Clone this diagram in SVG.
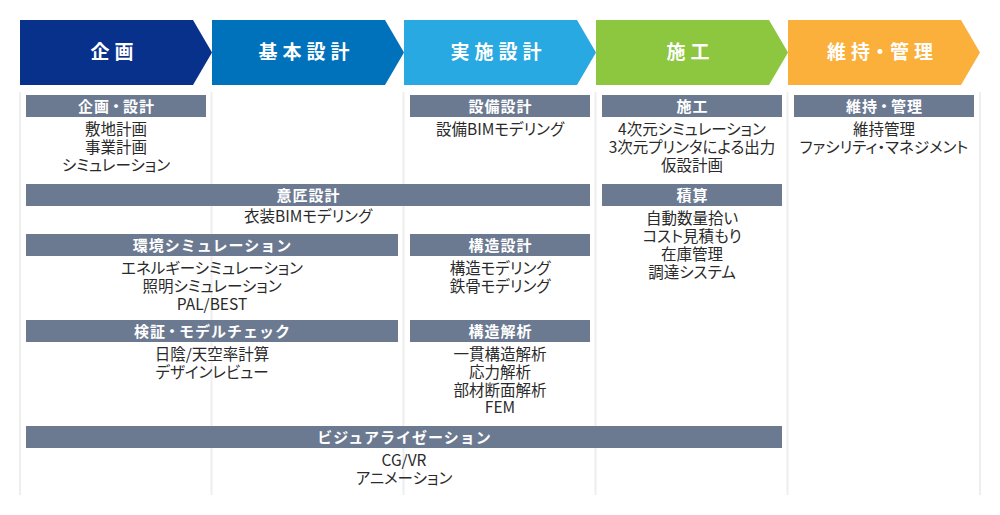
<svg xmlns="http://www.w3.org/2000/svg" width="1000" height="515" viewBox="0 0 1000 515">
<style>
.ph{font-family:"Noto Sans CJK JP","Noto Sans",sans-serif;font-size:19px;font-weight:bold;fill:#fff;text-anchor:middle;letter-spacing:5px}
.bar{fill:#6c7a91}
.bt{font-family:"Noto Sans CJK JP","Noto Sans",sans-serif;font-size:15px;font-weight:bold;fill:#fff;text-anchor:middle;letter-spacing:1px}
.tx{font-family:"Noto Sans CJK JP","Noto Sans",sans-serif;font-size:15.5px;fill:#2a2a2a;text-anchor:middle;font-feature-settings:"palt"}
.col{stroke:#eeeeee;stroke-width:2;fill:none}
</style>
<rect width="1000" height="515" fill="#fff"/>
<g id="columns">
<line class="col" x1="20" y1="92" x2="20" y2="495"/>
<line class="col" x1="211.5" y1="92" x2="211.5" y2="495"/>
<line class="col" x1="403.5" y1="92" x2="403.5" y2="495"/>
<line class="col" x1="595.5" y1="92" x2="595.5" y2="495"/>
<line class="col" x1="787.5" y1="92" x2="787.5" y2="495"/>
<line class="col" x1="980" y1="92" x2="980" y2="495"/>
</g>
<g id="phase-kikaku">
<polygon points="20,20 193,20 212,52.5 193,85 20,85" fill="#08318c"/>
<text class="ph" x="114.5" y="59">企画</text>
</g>
<g id="phase-kihon">
<polygon points="212,20 385,20 404,52.5 385,85 212,85" fill="#0071bb"/>
<text class="ph" x="306.5" y="59">基本設計</text>
</g>
<g id="phase-jisshi">
<polygon points="404,20 577,20 596,52.5 577,85 404,85" fill="#29a9e1"/>
<text class="ph" x="498.5" y="59">実施設計</text>
</g>
<g id="phase-seko">
<polygon points="596,20 769,20 788,52.5 769,85 596,85" fill="#8dc63f"/>
<text class="ph" x="690.5" y="59">施工</text>
</g>
<g id="phase-iji">
<polygon points="788,20 961,20 980,52.5 961,85 788,85" fill="#fbb03b"/>
<text class="ph" x="882.5" y="59">維持<tspan dx="-4.5">・</tspan><tspan dx="-4.5">管理</tspan></text>
</g>
<g id="kikaku-sekkei">
<rect class="bar" x="26" y="95" width="180" height="22"/>
<text class="bt" x="116.5" y="111.5">企画<tspan dx="-1.5">・</tspan><tspan dx="-1.5">設計</tspan></text>
<text class="tx" x="116" y="135">敷地計画</text>
<text class="tx" x="116" y="153">事業計画</text>
<text class="tx" x="116" y="171">シミュレーション</text>
</g>
<g id="setsubi-sekkei">
<rect class="bar" x="410" y="95" width="180" height="22"/>
<text class="bt" x="500.5" y="111.5">設備設計</text>
<text class="tx" x="500" y="135">設備BIMモデリング</text>
</g>
<g id="seko">
<rect class="bar" x="602" y="95" width="180" height="22"/>
<text class="bt" x="692.5" y="111.5">施工</text>
<text class="tx" x="692" y="135">4次元シミュレーション</text>
<text class="tx" x="692" y="153">3次元プリンタによる出力</text>
<text class="tx" x="692" y="171">仮設計画</text>
</g>
<g id="iji-kanri">
<rect class="bar" x="794" y="95" width="180" height="22"/>
<text class="bt" x="884.5" y="111.5">維持<tspan dx="-1.5">・</tspan><tspan dx="-1.5">管理</tspan></text>
<text class="tx" x="884" y="135">維持管理</text>
<text class="tx" x="884" y="153">ファシリティ・マネジメント</text>
</g>
<g id="isho-sekkei">
<rect class="bar" x="26" y="184" width="564" height="22"/>
<text class="bt" x="308.5" y="200.5">意匠設計</text>
<text class="tx" x="308" y="222">衣装BIMモデリング</text>
</g>
<g id="sekisan">
<rect class="bar" x="602" y="184" width="180" height="22"/>
<text class="bt" x="692.5" y="200.5">積算</text>
<text class="tx" x="692" y="223.5">自動数量拾い</text>
<text class="tx" x="692" y="241.5">コスト見積もり</text>
<text class="tx" x="692" y="259.5">在庫管理</text>
<text class="tx" x="692" y="277.5">調達システム</text>
</g>
<g id="kankyo-sim">
<rect class="bar" x="26" y="234" width="372" height="22"/>
<text class="bt" x="212.5" y="250.5">環境シミュレーション</text>
<text class="tx" x="212" y="273.5">エネルギーシミュレーション</text>
<text class="tx" x="212" y="291.5">照明シミュレーション</text>
<text class="tx" x="212" y="309.5">PAL/BEST</text>
</g>
<g id="kozo-sekkei">
<rect class="bar" x="410" y="234" width="180" height="22"/>
<text class="bt" x="500.5" y="250.5">構造設計</text>
<text class="tx" x="500" y="273.5">構造モデリング</text>
<text class="tx" x="500" y="291.5">鉄骨モデリング</text>
</g>
<g id="kensho">
<rect class="bar" x="26" y="320" width="372" height="22"/>
<text class="bt" x="212.5" y="336.5">検証<tspan dx="-1.5">・</tspan><tspan dx="-1.5">モデルチェック</tspan></text>
<text class="tx" x="212" y="359.5">日陰/天空率計算</text>
<text class="tx" x="212" y="377.5">デザインレビュー</text>
</g>
<g id="kozo-kaiseki">
<rect class="bar" x="410" y="320" width="180" height="22"/>
<text class="bt" x="500.5" y="336.5">構造解析</text>
<text class="tx" x="500" y="359.5">一貫構造解析</text>
<text class="tx" x="500" y="377.5">応力解析</text>
<text class="tx" x="500" y="395.5">部材断面解析</text>
<text class="tx" x="500" y="413">FEM</text>
</g>
<g id="visualization">
<rect class="bar" x="26" y="426" width="756" height="22"/>
<text class="bt" x="404.5" y="442.5">ビジュアライゼーション</text>
<text class="tx" x="404" y="465.5">CG/VR</text>
<text class="tx" x="404" y="483.5">アニメーション</text>
</g>
<g id="connectors"></g>
</svg>
